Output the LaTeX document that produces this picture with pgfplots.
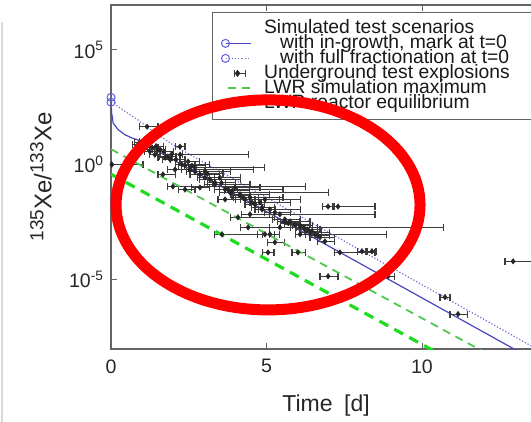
\documentclass[border=0pt]{standalone}
\usepackage{fontspec}
\setmainfont{Liberation Sans}
\usepackage{pgfplots}
\usepackage{pgfplotstable}
\pgfplotsset{compat=1.18}
\definecolor{ingrowth}{RGB}{70,70,190}
\definecolor{fractblue}{RGB}{110,110,215}
\definecolor{circblue}{RGB}{95,95,220}
\definecolor{lwrmax}{RGB}{80,200,80}
\definecolor{lwreq}{RGB}{30,220,30}
\definecolor{axgray}{RGB}{100,100,100}
\definecolor{errgray}{RGB}{60,60,60}

\pgfplotsset{
  lineleg/.style={legend image code/.code={\draw[##1] plot coordinates {(0bp,0bp) (25bp,0bp)};}},
  dashleg/.style={legend image code/.code={\draw[##1] (2bp,0bp) -- (25bp,0bp);}},
  errleg/.style={legend image code/.code={
    \draw[errgray, line width=1bp] (9bp,0bp) -- (20bp,0bp);
    \draw[errgray, line width=1bp] (20bp,-3.5bp) -- (20bp,3.5bp);
    \draw[errgray, line width=1bp] (9bp,-3.5bp) -- (9bp,3.5bp);
    \path[draw=black!85, fill=black!85] plot[only marks, mark=diamond*, mark size=2.8bp] coordinates {(12bp,0bp)};
  }},
}

% x [d], ly = log10(ratio), m/p = error minus/plus [d]
\pgfplotstableread{
x ly m p
0.03 0.00 0.03 1.00
1.16 1.65 0.23 0.35
0.87 0.87 0.19 0.26
1.00 0.65 0.20 0.25
1.25 0.57 0.16 0.20
1.41 0.43 0.16 0.17
1.58 0.65 0.17 0.16
1.74 0.30 0.23 0.22
1.90 0.22 0.23 0.32
2.22 0.78 0.16 0.16
2.22 0.43 0.26 2.19
2.28 0.00 0.22 0.90
2.48 0.13 0.26 0.38
2.54 -0.22 0.26 2.03
2.70 -0.13 0.22 2.25
2.86 -0.43 0.32 0.64
3.02 -0.30 0.32 0.81
2.06 -0.22 0.23 0.48
1.67 -0.43 0.16 0.39
1.99 -0.96 0.16 4.25
3.18 -0.65 0.32 0.97
3.34 -0.87 0.32 1.13
3.50 -0.57 0.32 0.67
3.67 -1.09 0.33 1.86
3.83 -1.22 0.33 3.15
3.99 -1.00 0.32 0.80
4.15 -1.30 0.32 0.96
4.31 -1.52 0.32 1.77
4.47 -1.43 0.32 1.06
4.63 -1.74 0.32 0.32
4.79 -1.65 0.32 0.97
4.86 -1.87 0.33 0.41
4.95 -1.52 0.32 0.48
5.11 -1.96 0.38 0.97
5.27 -2.09 0.32 0.49
5.43 -2.17 0.32 3.06
6.98 -1.83 0.19 0.19
7.30 -1.83 0.19 1.19
5.59 -2.39 0.41 0.49
5.76 -2.48 0.32 0.64
5.92 -2.61 0.33 0.48
6.08 -2.74 0.32 4.60
6.24 -2.83 0.32 0.48
6.40 -2.96 0.32 0.64
6.56 -3.04 0.32 2.31
6.72 -3.17 0.32 0.48
6.08 -3.04 0.16 0.16
5.11 -3.04 0.25 0.32
3.57 -3.04 0.23 1.54
4.08 -2.30 0.25 1.19
4.41 -2.74 0.26 1.35
5.05 -3.83 0.19 0.19
6.01 -3.83 0.19 0.23
7.36 -3.83 0.16 1.13
8.07 -3.78 0.13 0.13
8.39 -3.78 0.13 0.13
6.98 -4.87 0.26 0.32
8.91 -4.87 0.20 0.22
10.74 -5.78 0.16 0.16
11.16 -6.52 0.26 0.29
12.93 -4.22 0.26 1.02
1.09 1.00 0.16 0.16
1.32 0.74 0.16 0.19
1.51 0.65 0.19 0.23
1.83 0.35 0.26 0.26
2.09 0.22 0.19 0.29
2.38 -0.04 0.22 0.32
2.70 -0.30 0.26 0.32
3.02 -0.57 0.23 0.32
3.34 -0.78 0.23 0.35
3.76 -1.09 0.26 0.32
4.15 -1.35 0.26 0.32
4.53 -1.65 0.23 0.32
4.86 -1.96 0.23 0.42
5.59 -2.48 0.23 0.48
6.08 -2.65 0.23 0.39
6.33 -2.83 0.26 0.39
6.46 -2.91 0.23 0.32
6.65 -3.09 0.26 0.39
3.67 -1.52 0.23 0.48
2.38 -1.09 0.22 0.32
4.47 -2.17 0.26 0.64
2.86 -1.00 0.26 0.32
0.93 0.96 0.16 0.16
5.43 -2.74 0.32 0.64
6.88 -3.35 0.23 0.32
5.27 -3.39 0.23 0.32
4.95 -3.04 0.23 0.30
1.45 0.80 0.20 0.25
1.70 0.55 0.22 0.30
1.95 0.45 0.20 0.35
2.60 -0.05 0.25 0.45
3.10 -0.40 0.25 0.50
3.55 -0.80 0.28 0.45
3.90 -1.15 0.25 0.55
4.25 -1.45 0.30 0.50
5.70 -2.55 0.25 0.40
6.20 -2.75 0.25 0.45
}\explosions

\pgfplotstableread{
x ly
0 2.72
0.02 2.26
0.07 1.81
0.23 1.52
0.45 1.30
0.67 1.16
0.83 1.09
13.5 -8.45
}\ingrowthtab

\pgfplotstableread{
x ly
0 2.93
0.2 2.55
0.5 2.28
0.85 1.96
1.2 1.60
1.6 1.22
2.06 0.80
13.5 -7.90
}\fracttab

\pgfplotstableread{
x ly
0 0.67
13.5 -9.28
}\lwrmaxtab

\pgfplotstableread{
x ly
0 -0.42
13.5 -10.44
}\lwreqtab

\begin{document}
\begin{tikzpicture}
\begin{axis}[
  name=ax, at={(0,0)}, anchor=south west,
  scale only axis, width=435.4bp, height=344bp,
  xmin=0, xmax=14,
  ymode=log, ymin=9.06e-9, ymax=9.06e6,
  xtick={0,5,10}, xticklabels={0,5,10},
  ytick={1e-5,1,1e5},
  yticklabels={10\textsuperscript{-5},10\textsuperscript{0},10\textsuperscript{5}},
  yminorticks=false,
  tick align=inside, major tick length=6bp,
  axis line style={axgray, line width=1.2bp},
  tick style={axgray, line width=1bp},
  ticklabel style={font=\fontsize{19.5bp}{20bp}\selectfont, text=black!85},
  xticklabel style={yshift=-7bp},
  yticklabel style={xshift=-4bp},
  xlabel={Time\hspace{0.5em}[d]},
  xlabel style={font=\fontsize{23bp}{24bp}\selectfont, text=black!85, at={(axis description cs:0.494,-0.165)}, anchor=center},
  ylabel={{\fontsize{19bp}{19bp}\selectfont\raisebox{8bp}{135}}Xe/{\fontsize{19bp}{19bp}\selectfont\raisebox{8bp}{133}}Xe},
  ylabel style={font=\fontsize{24bp}{25bp}\selectfont, text=black!85, at={(axis description cs:-0.161,0.5)}, anchor=center},
  legend cell align=left,
  legend style={at={(0.232,0.98)}, anchor=north west, draw=axgray, line width=1bp,
    font=\fontsize{19.3bp}{15bp}\selectfont, text=black!90,
    nodes={text height=11bp, text depth=1bp, inner ysep=1.5bp},
    inner xsep=9bp, inner ysep=8.5bp},
]
\addlegendimage{empty legend}
\addlegendentry{\makebox[270bp][l]{\hspace*{10bp}Simulated test scenarios}}

\addplot[color=ingrowth, line width=1.2bp, mark=o, mark indices={1}, mark size=4bp,
  mark options={color=circblue, line width=1bp}, lineleg]
  table[x=x, y expr={10^(\thisrow{ly})}] {\ingrowthtab};
\addlegendentry{\makebox[270bp][l]{\hspace*{26bp}with in-growth, mark at t=0}}

\addplot[color=fractblue, line width=1.2bp, dotted, mark=o, mark indices={1}, mark size=4bp,
  mark options={solid, color=circblue, line width=1bp}, lineleg]
  table[x=x, y expr={10^(\thisrow{ly})}] {\fracttab};
\addlegendentry{\makebox[270bp][l]{\hspace*{26bp}with full fractionation at t=0}}

\addplot[only marks, mark=diamond*, mark size=2.8bp, color=black!85, errleg,
  error bars/.cd, x dir=both, x explicit,
  error bar style={errgray, line width=1.1bp},
  error mark options={errgray, line width=1.1bp, mark size=3.5bp, rotate=90}]
  table[x=x, y expr={10^(\thisrow{ly})}, x error plus=p, x error minus=m] {\explosions};
\addlegendentry{\makebox[270bp][l]{\hspace*{10bp}Underground test explosions}}

\addplot[color=lwrmax, line width=1.8bp, dash pattern=on 8bp off 6bp, dashleg]
  table[x=x, y expr={10^(\thisrow{ly})}] {\lwrmaxtab};
\addlegendentry{\makebox[270bp][l]{\hspace*{10bp}LWR simulation maximum}}

\addplot[color=lwreq, line width=3.2bp, dash pattern=on 10bp off 7bp, dashleg]
  table[x=x, y expr={10^(\thisrow{ly})}] {\lwreqtab};
\addlegendentry{\makebox[270bp][l]{\hspace*{10bp}LWR reactor equilibrium}}

\coordinate (ec) at (axis cs:5.05,0.0174);
\end{axis}
\draw[red, line width=11bp] (ec) ellipse [x radius=152bp, y radius=105bp];
\draw[black!15, line width=2bp] ([xshift=-108.5bp,yshift=-73bp]ax.south west) -- ++(0,400bp);
\pgfresetboundingbox
\path[use as bounding box] ([xshift=-111bp,yshift=-73bp]ax.south west) rectangle ++(531bp,422bp);
\end{tikzpicture}
\end{document}
